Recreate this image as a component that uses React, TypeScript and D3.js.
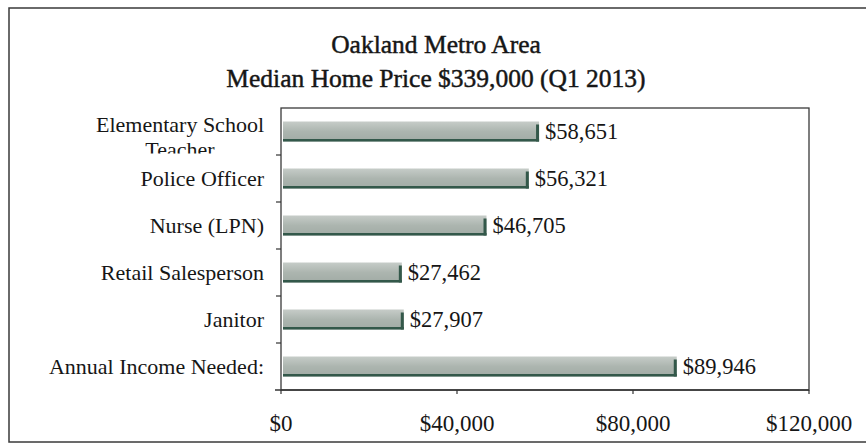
import React from "react";
import * as d3 from "d3";

const categories = [
  "Elementary School Teacher",
  "Police Officer",
  "Nurse (LPN)",
  "Retail Salesperson",
  "Janitor",
  "Annual Income Needed:",
];
const values = [58651, 56321, 46705, 27462, 27907, 89946];
const xTicks = [0, 40000, 80000, 120000];
const titleLines = ["Oakland Metro Area", "Median Home Price $339,000 (Q1 2013)"];

const W = 866;
const H = 444;
const FONT = "'Liberation Serif', 'DejaVu Serif', serif";

export default function App() {
  const left = 281;
  const right = 809;
  const top = 108;
  const bottom = 390;
  const x = d3.scaleLinear().domain([0, 120000]).range([left, right]);
  const y = d3.scaleBand().domain(categories).range([top, bottom]);
  const barH = 20;
  const fmt = d3.format("$,");
  const text = "#161616";
  const edge = "#33584a";

  return (
    <svg width={W} height={H} style={{ position: "absolute", left: 0, top: 0 }}>
      <defs>
        <linearGradient id="barg" x1="0" y1="0" x2="0" y2="1">
          <stop offset="0" stopColor="#c6ccc8" />
          <stop offset="0.5" stopColor="#acb5af" />
          <stop offset="1" stopColor="#a1aba5" />
        </linearGradient>
        <clipPath id="lblclip">
          <rect x={0} y={0} width={left} height={153.5} />
        </clipPath>
      </defs>
      <rect x={0} y={0} width={W} height={H} fill="#ffffff" />
      {/* outer frame */}
      <rect x={9} y={8} width={W} height={434} fill="none" stroke="#3a3a3a" strokeWidth={1.5} />
      {/* title */}
      {titleLines.map((t, i) => (
        <text
          key={t}
          x={436}
          y={53 + i * 34}
          textAnchor="middle"
          fontFamily={FONT}
          fontSize={25.5}
          fill={text}
          stroke={text}
          strokeWidth={0.45}
        >
          {t}
        </text>
      ))}
      {/* plot frame */}
      <rect x={left} y={top} width={right - left} height={bottom - top} fill="none" stroke="#3a3a3a" strokeWidth={1.3} />
      {/* bars */}
      {categories.map((c, i) => {
        const cy = y(c)! + y.bandwidth() / 2;
        const x0 = x(0) + 2;
        const x1 = x(values[i]);
        return (
          <g key={c}>
            <rect x={x0} y={cy - barH / 2} width={x1 - x0} height={barH} fill="url(#barg)" />
            <rect x={x0} y={cy + barH / 2 - 2.5} width={x1 - x0} height={2.5} fill={edge} />
            <rect x={x1 - 3} y={cy - barH / 2 + 3} width={3} height={barH - 3} fill={edge} />
            <text
              x={x1 + 6}
              y={cy}
              dy="0.35em"
              fontFamily={FONT}
              fontSize={22.5}
              fill={text}
            >
              {fmt(values[i])}
            </text>
          </g>
        );
      })}
      {/* y axis ticks */}
      {categories.slice(1).map((c) => (
        <line key={c} x1={left - 5} x2={left} y1={y(c)!} y2={y(c)!} stroke="#333" strokeWidth={1.2} />
      ))}
      {/* x axis */}
      <line x1={left - 6} x2={right} y1={bottom} y2={bottom} stroke="#333" strokeWidth={1.5} />
      {xTicks.map((t) => (
        <g key={t}>
          <line x1={x(t)} x2={x(t)} y1={bottom} y2={bottom + 4} stroke="#333" strokeWidth={1.2} />
          <text
            x={x(t)}
            y={431}
            textAnchor="middle"
            fontFamily={FONT}
            fontSize={23}
            fill={text}
          >
            {fmt(t)}
          </text>
        </g>
      ))}
      {/* category labels */}
      {categories.map((c, i) => {
        const cy = y(c)! + y.bandwidth() / 2;
        if (i === 0) {
          return (
            <g key={c} clipPath="url(#lblclip)">
              <text x={264} y={132} textAnchor="end" fontFamily={FONT} fontSize={22} fill={text}>
                Elementary School
              </text>
              <text x={180} y={157} textAnchor="middle" fontFamily={FONT} fontSize={22} fill={text}>
                Teacher
              </text>
            </g>
          );
        }
        return (
          <text key={c} x={264} y={cy} dy="0.35em" textAnchor="end" fontFamily={FONT} fontSize={22} fill={text}>
            {c}
          </text>
        );
      })}
    </svg>
  );
}
